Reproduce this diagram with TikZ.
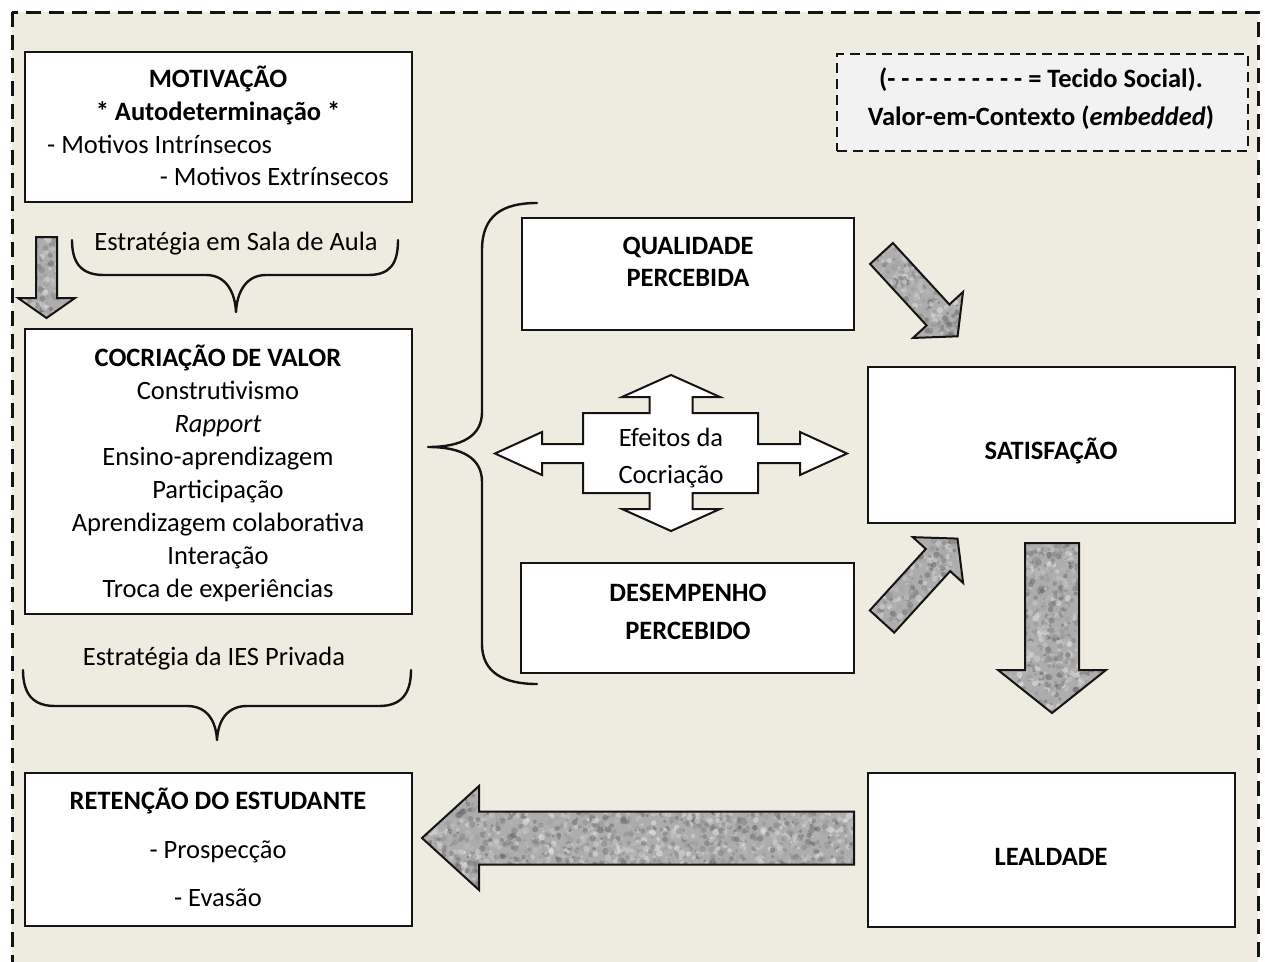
\documentclass[tikz,border=0pt]{standalone}
\usepackage{fontspec}
\setmainfont{Carlito}
\usetikzlibrary{calc}
\definecolor{bgbeige}{HTML}{EEECE1}
\definecolor{legendfill}{HTML}{F2F2F2}
\definecolor{lineblack}{HTML}{141414}
\newcommand{\fsz}{\fontsize{26.5pt}{33pt}\selectfont}
\tikzset{
  txt/.style={font=\fsz, inner sep=0pt, anchor=base, text=black},
  btxt/.style={font=\fsz\bfseries, inner sep=0pt, anchor=base, text=black},
  boxnode/.style={draw=lineblack, line width=2pt, fill=white, anchor=north west, inner sep=0pt, outer sep=0pt},
  legendbox/.style={draw=lineblack, line width=2pt, dash pattern=on 10pt off 6pt, fill=legendfill, anchor=north west, inner sep=0pt},
  outerborder/.style={draw=lineblack, line width=3pt, dash pattern=on 15pt off 8pt, fill=bgbeige},
  bracestyle/.style={draw=lineblack, line width=2.4pt, line cap=round, line join=round},
  arrowline/.style={draw=lineblack, line width=2pt, line join=miter},
}
\pgfmathsetseed{4242}
% #1 tail, #2 tip, #3 shaft half width, #4 head half width, #5 head length, #6-#9 bbox
\newcommand{\grainarrow}[9]{%
  \coordinate (#1h) at ($(#2)!#5pt!(#1)$);
  \def\arrowpath{($(#1)!#3pt!90:(#2)$) -- ($(#1h)!#3pt!90:(#2)$) -- ($(#1h)!#4pt!90:(#2)$) -- (#2) -- ($(#1h)!#4pt!-90:(#2)$) -- ($(#1h)!#3pt!-90:(#2)$) -- ($(#1)!#3pt!-90:(#2)$) -- cycle}%
  \begin{scope}
    \clip \arrowpath;
    \fill[black!32] (#6,#7) rectangle (#8,#9);
    \pgfmathtruncatemacro{\ndots}{(#8-#6)/18*(#9-#7)}
    \foreach \k in {1,...,\ndots}{%
      \pgfmathsetmacro{\rx}{#6+rnd*(#8-#6)}%
      \pgfmathsetmacro{\ry}{#7+rnd*(#9-#7)}%
      \pgfmathsetmacro{\rr}{1.2+rnd*2.2}%
      \pgfmathtruncatemacro{\gl}{8+rnd*55}%
      \fill[black!\gl, fill opacity=0.5] (\rx,\ry) circle (\rr pt);
    }
  \end{scope}
  \draw[arrowline] \arrowpath;
}
\begin{document}
\begin{tikzpicture}[x=1pt,y=-1pt]
\useasboundingbox (0,0) rectangle (1265,961);
\fill[white] (0,0) rectangle (1265,961);
\clip (0,0) rectangle (1265,961);
\draw[outerborder] (12,12) rectangle (1258,1000);

% legend
\node[legendbox, minimum width=411pt, minimum height=97pt] (leg) at (836,53) {};
\node[btxt] (legT1) at (1041,87) {(- - - - - - - - - - = Tecido Social).};
\node[btxt] (legT2) at (1041,125) {Valor-em-Contexto (\textit{embedded})};

% boxes
\node[boxnode, minimum width=387pt, minimum height=150pt] (motiv) at (25,52) {};
\node[boxnode, minimum width=387pt, minimum height=285pt] (cocri) at (25,329) {};
\node[boxnode, minimum width=387pt, minimum height=153pt] (reten) at (25,773) {};
\node[boxnode, minimum width=332pt, minimum height=112pt] (quali) at (522,218) {};
\node[boxnode, minimum width=333pt, minimum height=110pt] (desem) at (521,563) {};
\node[boxnode, minimum width=367pt, minimum height=156pt] (satis) at (868,367) {};
\node[boxnode, minimum width=367pt, minimum height=154pt] (leald) at (868,773) {};

% texts
\node[btxt] (motT1) at (218,87) {MOTIVAÇÃO};
\node[btxt] (motT2) at (218,120) {* Autodeterminação *};
\node[txt, anchor=base west] (motT3) at (47,153) {- Motivos Intrínsecos};
\node[txt, anchor=base east] (motT4) at (389,185) {- Motivos Extrínsecos};
\node[txt] (estr1) at (236,250) {Estratégia em Sala de Aula};
\node[btxt] (cocT0) at (218,366) {COCRIAÇÃO DE VALOR};
\foreach \t [count=\i] in {Construtivismo, \textit{Rapport}, Ensino-aprendizagem, Participação, Aprendizagem colaborativa, Interação, Troca de experiências}
  \node[txt] (cocT\i) at (218,{366+33*\i}) {\t};
\node[txt] (estr2) at (214,665) {Estratégia da IES Privada};
\node[btxt] (retT1) at (218,809) {RETENÇÃO DO ESTUDANTE};
\node[txt] (retT2) at (218,858) {- Prospecção};
\node[txt] (retT3) at (218,906) {- Evasão};
\node[btxt] (qualT1) at (688,254) {QUALIDADE};
\node[btxt] (qualT2) at (688,286) {PERCEBIDA};
\node[btxt] (desT1) at (688,601) {DESEMPENHO};
\node[btxt] (desT2) at (688,639) {PERCEBIDO};
\node[btxt] (satT) at (1051,459) {SATISFAÇÃO};
\node[btxt] (lealT) at (1051,865) {LEALDADE};

% braces
\draw[bracestyle] (72,240) .. controls (72,264) and (82,275) .. (104,275) -- (206,275)
   .. controls (226,275) and (235,292) .. (236,312)
   .. controls (237,292) and (246,275) .. (266,275) -- (368,275)
   .. controls (390,275) and (398,264) .. (398,240);
\draw[bracestyle] (23,670) .. controls (23,694) and (33,706) .. (55,706) -- (187,706)
   .. controls (208,706) and (216,722) .. (217,740)
   .. controls (218,722) and (226,706) .. (247,706) -- (379,706)
   .. controls (401,706) and (411,694) .. (411,670);
\draw[bracestyle] (537,203) .. controls (503,203) and (482,215) .. (482,250) -- (482,412)
   .. controls (482,436) and (462,447) .. (428,447)
   .. controls (462,447) and (482,458) .. (482,482) -- (482,644)
   .. controls (482,672) and (503,684) .. (537,684);

% four-way white arrow
\draw[arrowline, fill=white] (671,375) -- (720,397) -- (692.5,397) -- (692.5,413) -- (758,413) -- (758,444) -- (800,444) -- (800,432) -- (847,453.5) -- (800,475) -- (800,463) -- (758,463) -- (758,493) -- (692.5,493) -- (692.5,509) -- (720,509) -- (671,531) -- (622,509) -- (649.5,509) -- (649.5,493) -- (583,493) -- (583,463) -- (542,463) -- (542,475) -- (495,453.5) -- (542,432) -- (542,444) -- (583,444) -- (583,413) -- (649.5,413) -- (649.5,397) -- (622,397) -- cycle;
\node[txt] (efT1) at (671,446) {Efeitos da};
\node[txt] (efT2) at (671,483) {Cocriação};

% grey block arrows
\coordinate (mdT) at (46.5,237); \coordinate (mdP) at (46.5,318);
\grainarrow{mdT}{mdP}{10.5}{28.5}{20}{15}{234}{78}{321}
\coordinate (sdT) at (1052,543); \coordinate (sdP) at (1052,713);
\grainarrow{sdT}{sdP}{27}{54}{43}{995}{540}{1110}{716}
\coordinate (llT) at (854,838); \coordinate (llP) at (422,838);
\grainarrow{llT}{llP}{26.5}{52}{57}{419}{783}{857}{893}
\coordinate (qsT) at (881.5,253.5); \coordinate (qsP) at (957.6,336.3);
\grainarrow{qsT}{qsP}{15.5}{34}{29}{865}{238}{968}{342}
\coordinate (dsT) at (882,621.5); \coordinate (dsP) at (957.5,538.6);
\grainarrow{dsT}{dsP}{16.5}{34}{29}{865}{532}{968}{640}
\end{tikzpicture}
\end{document}
